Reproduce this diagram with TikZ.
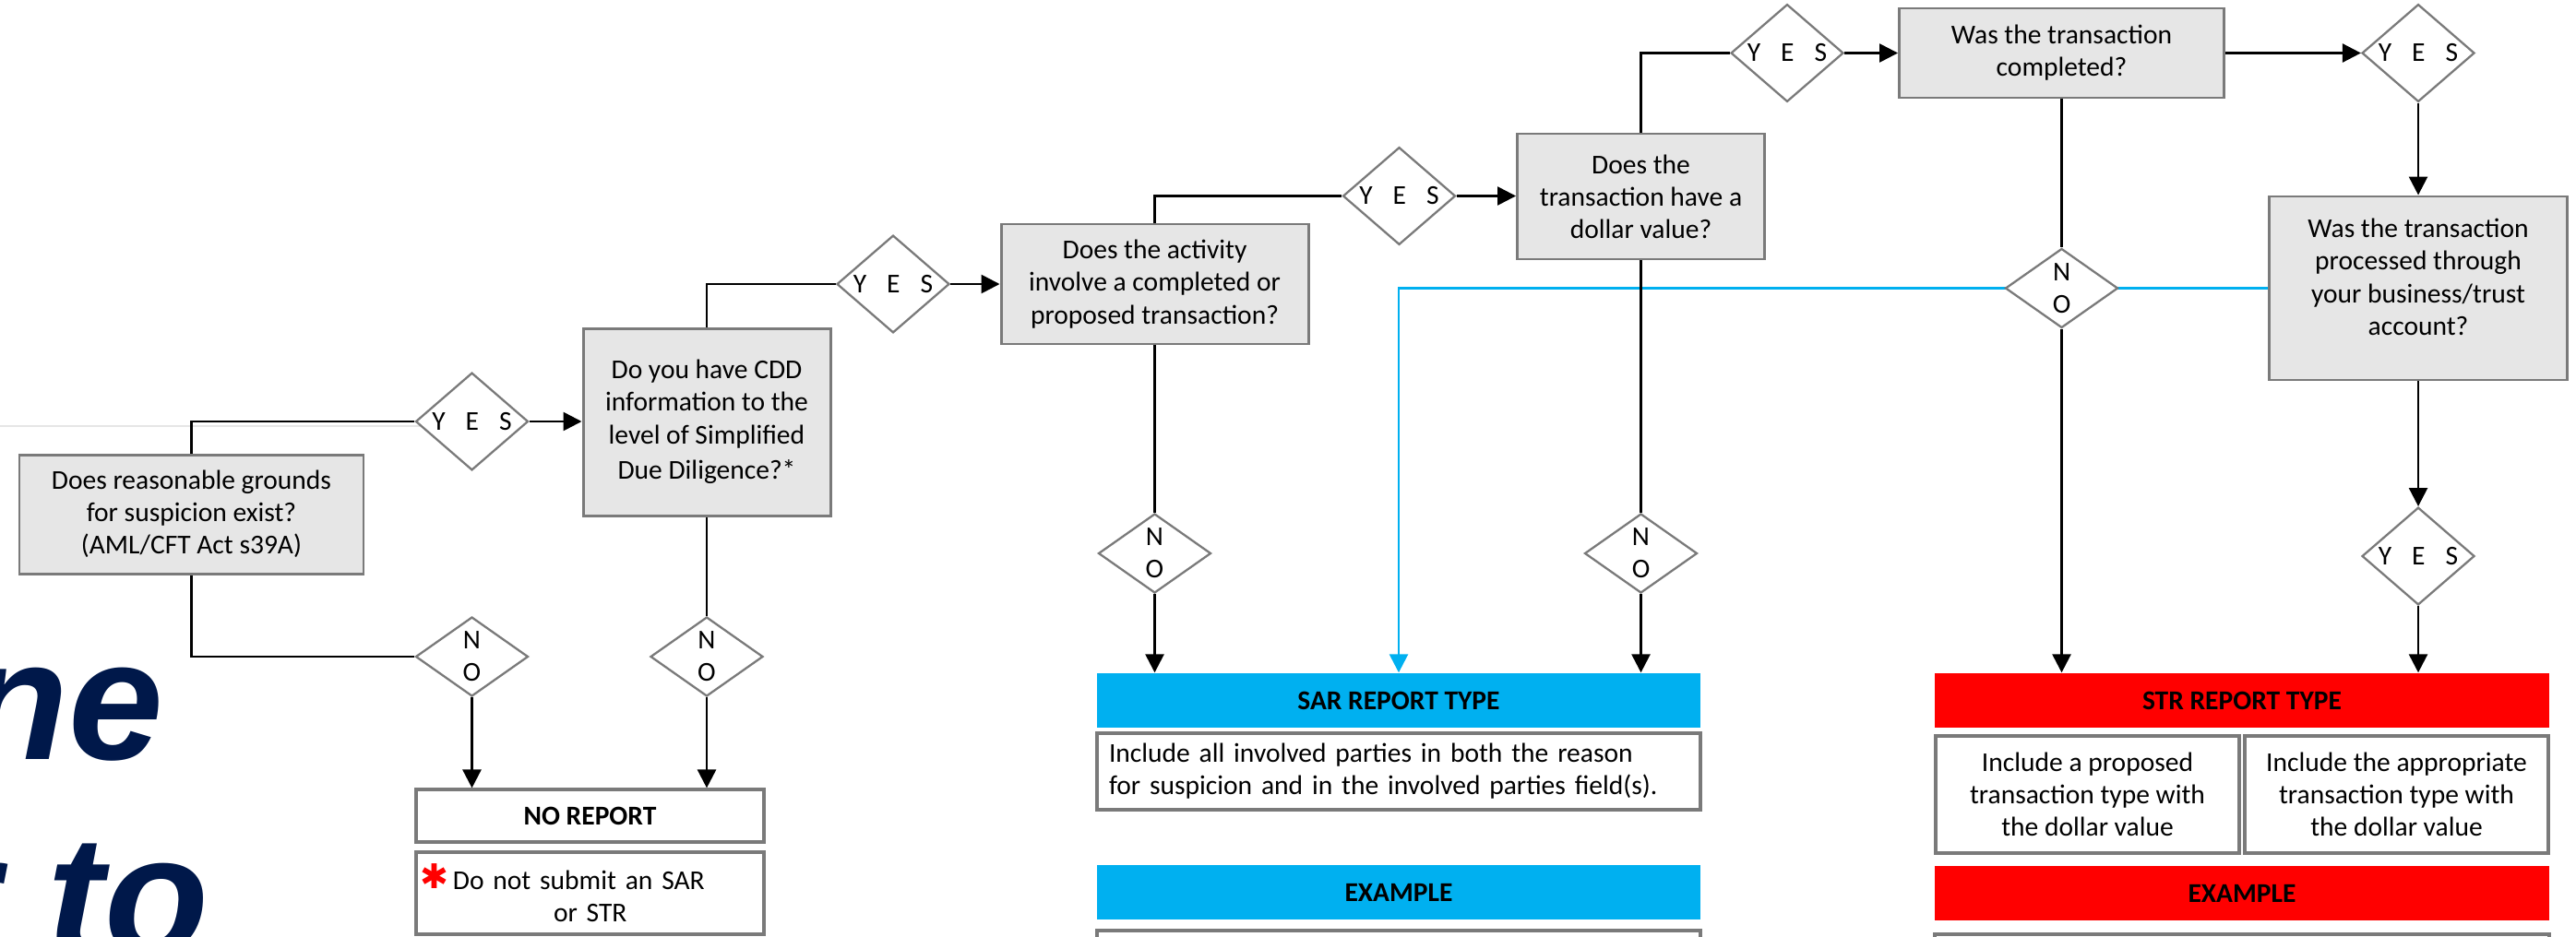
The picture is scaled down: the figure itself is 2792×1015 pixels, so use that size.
\documentclass[tikz,border=0pt]{standalone}
\usepackage{fontspec}
\setmainfont{Carlito}
\newfontfamily\titlefont{Liberation Sans}
\newfontfamily\symfont{DejaVu Sans}
\usetikzlibrary{shapes.geometric,arrows.meta,calc}
\pgfdeclarelayer{bg}
\pgfsetlayers{bg,main}
\definecolor{boxfill}{HTML}{E6E6E6}
\definecolor{boxline}{HTML}{7A7A7A}
\definecolor{sarblue}{HTML}{00B0F0}
\definecolor{strred}{HTML}{FF0000}
\definecolor{titlenavy}{HTML}{00184A}
\definecolor{sepgray}{HTML}{E6E6E6}
\newcommand{\fs}{\fontsize{8.4}{10}\selectfont}
\newcommand{\yeslabel}{Y\hspace{2.2mm}E\hspace{2.2mm}S}
\begin{document}
\begin{tikzpicture}[x=0.1mm,y=-0.1mm,
  qbox/.style={draw=boxline, fill=boxfill, line width=0.85pt, align=center, inner sep=0pt, font=\fs},
  wbox/.style={draw=boxline, fill=white, line width=0.9pt, align=center, inner sep=0pt, font=\fs},
  dia/.style={diamond, draw=boxline, fill=white, line width=0.65pt, minimum width=12.2mm, minimum height=8.6mm, inner sep=0pt, align=center, font=\fs},
  bar/.style={inner sep=0pt, font=\fs\bfseries, minimum width=65.4mm, minimum height=5.9mm},
  conn/.style={draw=black, line width=0.75pt},
  arr/.style={conn, -{Triangle[length=2mm,width=2mm]}},
  bluearr/.style={draw=sarblue, line width=0.75pt, -{Triangle[length=2mm,width=2mm]}},
  sepline/.style={draw=sepgray, line width=0.6pt},
  titletext/.style={anchor=base east, inner sep=0pt, text=titlenavy, font=\titlefont\bfseries\itshape\fontsize{52.6}{60}\selectfont}
]
\useasboundingbox (0,0) rectangle (2792,1015);
\clip (0,0) rectangle (2792,1015);

% title fragments
\node[titletext] (title1) at (178,823) {ne};
\node[titletext] (title2) at (227,1035) {r to};

% left part
\node[qbox, minimum width=37.3mm, minimum height=12.9mm] (b1) at (207.5,557.5) {Does reasonable grounds\\for suspicion exist?\\(AML/CFT Act s39A)};
\node[dia] (y1) at (511.5,457) {\yeslabel};
\node[dia] (n1) at (511.5,712) {N\\O};
\node[qbox, minimum width=26.8mm, minimum height=20.3mm] (b2) at (766,457.5) {Do you have CDD\\information to the\\level of Simplified\\[1pt]Due Diligence?*};
\node[dia] (n2) at (766,712) {N\\O};
\node[wbox, minimum width=37.7mm, minimum height=5.7mm, font=\fs\bfseries] (nr) at (639.5,884.5) {NO REPORT};
\node[wbox, minimum width=37.7mm, minimum height=8.9mm, text width=36.9mm, align=left] (nrnote) at (639.5,968.5) {\raisebox{0.1mm}{\color{strred}\symfont\fontsize{10.5}{10}\selectfont ✱}\,Do not submit an SAR\\\hspace*{14.5mm}or STR};

% middle part
\node[dia] (y2) at (968,308) {\yeslabel};
\node[qbox, minimum width=33.3mm, minimum height=13mm] (act) at (1251.5,308) {Does the activity\\involve a completed or\\proposed transaction?};
\node[dia] (n3) at (1251.5,600) {N\\O};
\node[dia] (y3) at (1516.5,212.5) {\yeslabel};
\node[qbox, minimum width=26.8mm, minimum height=13.6mm] (dol) at (1778.5,213) {Does the\\transaction have a\\dollar value?};
\node[dia] (n4) at (1778.5,600) {N\\O};

% right part
\node[dia] (y4) at (1937,57.5) {\yeslabel};
\node[qbox, minimum width=35.2mm, minimum height=9.7mm] (comp) at (2234.5,57.5) {Was the transaction\\completed?};
\node[dia] (y5) at (2621,57.5) {\yeslabel};
\node[qbox, minimum width=32.3mm, minimum height=19.9mm] (proc) at (2621,312.5) {\raisebox{0.9mm}[\height][\depth]{\begin{tabular}{@{}c@{}}Was the transaction\\processed through\\your business/trust\\account?\end{tabular}}};
\node[dia] (n5) at (2234.5,312.5) {N\\O};
\node[dia] (y6) at (2621,603) {\yeslabel};

% SAR column
\node[bar, fill=sarblue] (sar) at (1516,759.5) {SAR REPORT TYPE};
\node[wbox, minimum width=65.4mm, minimum height=8.3mm, text width=62.8mm, align=left, line width=1pt] (sarinc) at (1516,836.5) {Include all involved parties in both the reason\\for suspicion and in the involved parties field(s).};
\node[bar, fill=sarblue] (sarex) at (1516,967.5) {EXAMPLE};
\node[wbox, minimum width=65.4mm, minimum height=5.2mm, line width=1pt] (sarexbox) at (1516,1035) {};

% STR column
\node[bar, fill=strred, minimum width=66.6mm] (str) at (2430,759.5) {STR REPORT TYPE};
\node[wbox, minimum width=32.9mm, minimum height=12.7mm] (strl) at (2262.5,861.5) {Include a proposed\\transaction type with\\the dollar value};
\node[wbox, minimum width=32.9mm, minimum height=12.7mm] (strr) at (2597.5,861.5) {Include the appropriate\\transaction type with\\the dollar value};
\node[bar, fill=strred, minimum width=66.6mm] (strex) at (2430,968.5) {EXAMPLE};
\node[wbox, minimum width=66.6mm, minimum height=5.4mm] (strexbox) at (2430,1040) {};

% connectors
\begin{pgfonlayer}{bg}
\coordinate (sep0) at (0,461.7);
\draw[sepline] (sep0) -- (sep0 -| y1.center);
\draw[conn] (b1.north) |- (y1.west);
\draw[arr] (y1.east) -- (y1.east -| b2.west);
\draw[conn] (b1.south) |- (n1.west);
\draw[arr] (n1.south) -- (n1.south |- nr.north);
\draw[conn] (b2.south) -- (n2.north);
\draw[arr] (n2.south) -- (n2.south |- nr.north);
\draw[conn] (b2.north) |- (y2.west);
\draw[arr] (y2.east) -- (y2.east -| act.west);
\draw[conn] (act.south) -- (n3.north);
\draw[arr] (n3.south) -- (n3.south |- sar.north);
\draw[conn] (act.north) |- (y3.west);
\draw[arr] (y3.east) -- (y3.east -| dol.west);
\draw[bluearr] (proc.west) -| (sar.north);
\draw[conn] (dol.south) -- (n4.north);
\draw[arr] (n4.south) -- (n4.south |- sar.north);
\draw[conn] (dol.north) |- (y4.west);
\draw[arr] (y4.east) -- (y4.east -| comp.west);
\draw[arr] (comp.east) -- (y5.west);
\draw[arr] (y5.south) -- (y5.south |- proc.north);
\draw[conn] (comp.south) -- (n5.north);
\draw[arr] (n5.south) -- (n5.south |- str.north);
\draw[arr] (proc.south) -- (y6.north);
\draw[arr] (y6.south) -- (y6.south |- str.north);
\end{pgfonlayer}
\end{tikzpicture}
\end{document}
